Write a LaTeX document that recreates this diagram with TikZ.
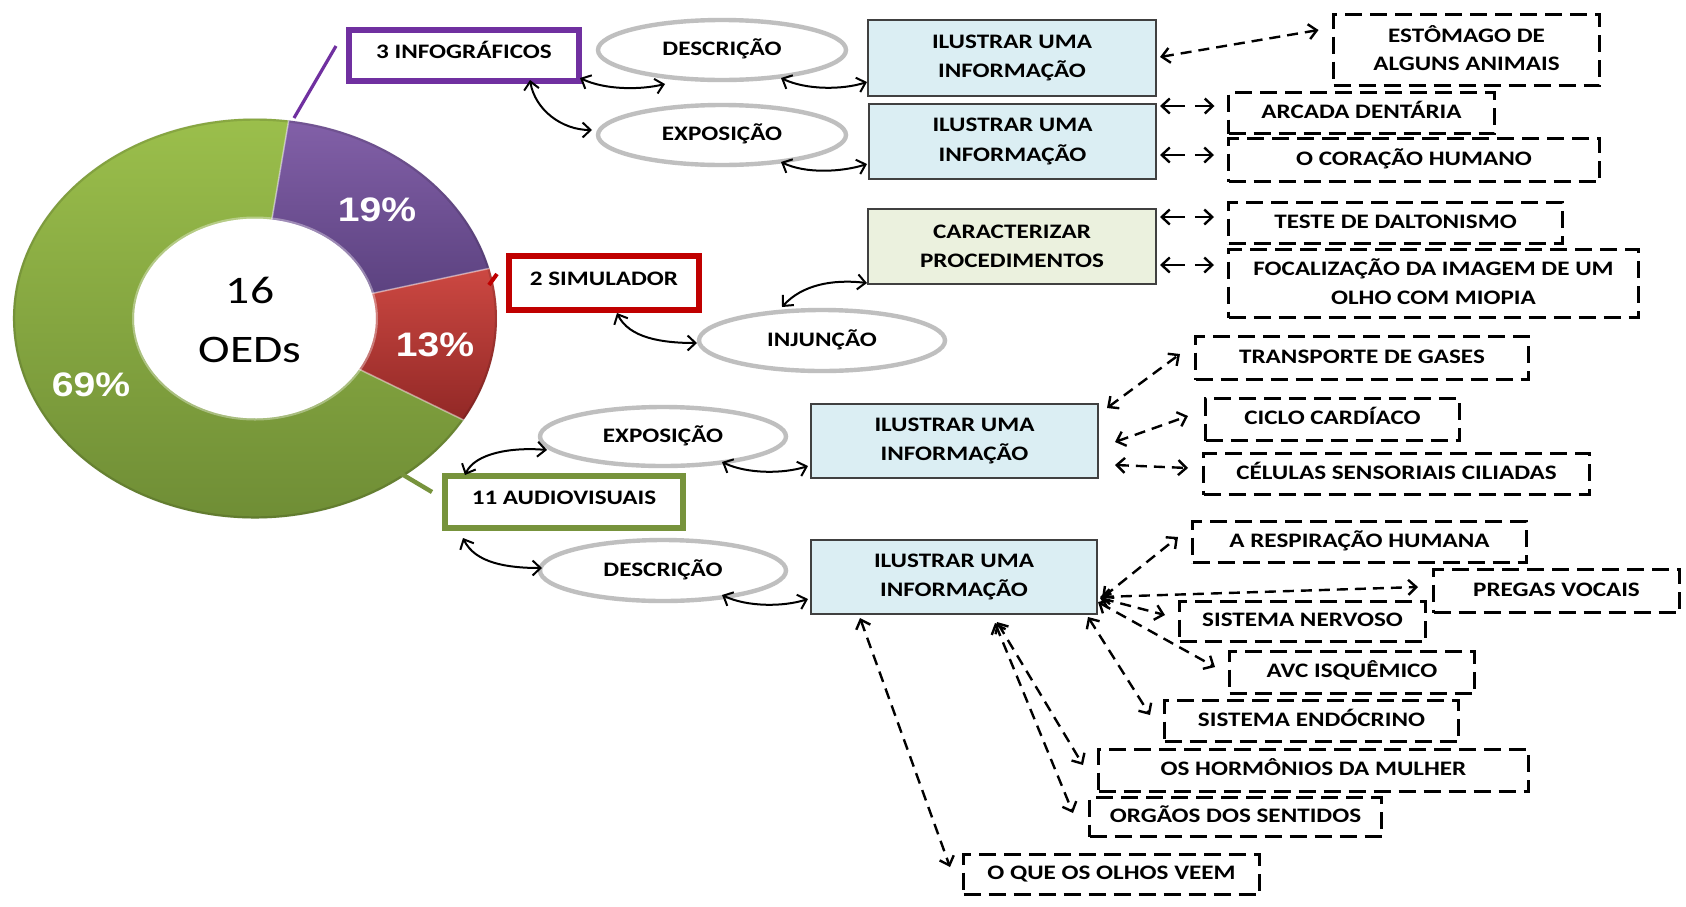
\documentclass[tikz,border=0pt]{standalone}
\usepackage{fontspec}
\setmainfont{Carlito}[FakeStretch=1.22]
\newfontfamily\pctfont{Liberation Sans}[FakeStretch=1.15]
\usetikzlibrary{arrows.meta,shapes.geometric,calc}

\definecolor{infopurple}{RGB}{112,48,160}
\definecolor{simred}{RGB}{192,0,0}
\definecolor{avgreen}{RGB}{119,147,60}
\definecolor{ovalgray}{RGB}{191,191,191}
\definecolor{bluefill}{RGB}{219,238,243}
\definecolor{greenfill}{RGB}{235,241,222}
\definecolor{boxline}{RGB}{64,64,64}
\definecolor{ringgreenA}{RGB}{156,192,76}
\definecolor{ringgreenB}{RGB}{108,138,52}
\definecolor{ringpurpleA}{RGB}{130,96,168}
\definecolor{ringpurpleB}{RGB}{92,66,128}
\definecolor{ringredA}{RGB}{204,72,66}
\definecolor{ringredB}{RGB}{146,40,38}

\begin{document}
\begin{tikzpicture}[x=0.5pt,y=-0.5pt,
  every node/.style={outer sep=0pt},
  txt/.style={font=\fontsize{10.3}{14.7}\selectfont\bfseries, align=center, inner sep=0pt, text=black},
  oneline/.style={text height=7pt, text depth=1.8pt},
  catbox/.style={txt, rectangle, draw=#1, line width=3pt, fill=white, text height=6pt, text depth=3.4pt},
  oval/.style={txt, ellipse, draw=ovalgray, line width=2.2pt, fill=white, text height=7pt, text depth=1.2pt},
  infobox/.style={txt, rectangle, draw=boxline, line width=1pt, fill=bluefill},
  topic/.style={txt, rectangle, draw=black, line width=1.4pt, dash pattern=on 8.5pt off 4pt},
  tip/.tip={Straight Barb[length=4pt,width=7.5pt]},
  link/.style={line width=1pt, tip-tip},
  dlink/.style={line width=1.2pt, dash pattern=on 5.5pt off 3.5pt, tip-tip},
  slink/.style={line width=1.2pt, dash pattern=on 11pt off 5pt, tip-tip},
  pct/.style={font=\pctfont\bfseries\fontsize{17}{17}\selectfont, text=white, inner sep=0pt}
]
% canvas
\useasboundingbox (0,0) rectangle (1686,906);
\fill[white] (0,0) rectangle (1686,906);

% ---------- donut chart (16 OEDs) ----------
\def\cx{255}\def\cy{318.5}
\def\ra{242}\def\rb{200}\def\ia{121}\def\ib{100}
% green 69%
\shade[top color=ringgreenA, bottom color=ringgreenB]
  ({\cx+\ra*cos(30.5)},{\cy+\rb*sin(30.5)}) arc[start angle=30.5, end angle=278, x radius=\ra, y radius=\rb]
  -- ({\cx+\ia*cos(278)},{\cy+\ib*sin(278)}) arc[start angle=278, end angle=30.5, x radius=\ia, y radius=\ib] -- cycle;
% purple 19%
\shade[top color=ringpurpleA, bottom color=ringpurpleB]
  ({\cx+\ra*cos(-82)},{\cy+\rb*sin(-82)}) arc[start angle=-82, end angle=-14.5, x radius=\ra, y radius=\rb]
  -- ({\cx+\ia*cos(-14.5)},{\cy+\ib*sin(-14.5)}) arc[start angle=-14.5, end angle=-82, x radius=\ia, y radius=\ib] -- cycle;
% red 13%
\shade[top color=ringredA, bottom color=ringredB]
  ({\cx+\ra*cos(-14.5)},{\cy+\rb*sin(-14.5)}) arc[start angle=-14.5, end angle=30.5, x radius=\ra, y radius=\rb]
  -- ({\cx+\ia*cos(30.5)},{\cy+\ib*sin(30.5)}) arc[start angle=30.5, end angle=-14.5, x radius=\ia, y radius=\ib] -- cycle;
% soft rim on the outer and inner edges
\draw[black, opacity=0.12, line width=1.2pt]
  (\cx,\cy) ellipse[x radius=\ra-1, y radius=\rb-1];
\draw[white, opacity=0.35, line width=1pt]
  (\cx,\cy) ellipse[x radius=\ia+1, y radius=\ib+1];
% light seams between the slices
\foreach \a in {-82,-14.5,30.5}
  \draw[white, opacity=0.45, line width=0.8pt]
    ({\cx+\ia*cos(\a)},{\cy+\ib*sin(\a)}) -- ({\cx+\ra*cos(\a)},{\cy+\rb*sin(\a)});

\node[pct] (p19) at (377,210) {19\%};
\node[pct] (p13) at (435,345) {13\%};
\node[pct] (p69) at (91,385) {69\%};
\node[anchor=base, inner sep=0pt, font=\fontsize{19.5}{19.5}\selectfont] (num) at (250,303) {16};
\node[anchor=base, inner sep=0pt, font=\fontsize{19.5}{19.5}\selectfont] (oeds) at (250,362) {OEDs};

% leader lines from the slices
\coordinate (lpA) at (294,118); \coordinate (lpB) at (336,46);
\coordinate (lrA) at (489,285); \coordinate (lrB) at (497,274);
\coordinate (lgA) at (400,473); \coordinate (lgB) at (432,492);
\draw[infopurple, line width=1.6pt] (lpA) -- (lpB);
\draw[simred, line width=2pt] (lrA) -- (lrB);
\draw[avgreen, line width=2.2pt] (lgA) -- (lgB);

% ---------- categories ----------
\node[catbox=infopurple, minimum width=115pt, minimum height=25.5pt] (info) at (464,55.5) {3 INFOGRÁFICOS};
\node[catbox=simred, minimum width=95pt, minimum height=27pt] (sim) at (604,283) {2 SIMULADOR};
\node[catbox=avgreen, minimum width=119pt, minimum height=26pt] (av) at (564,502) {11 AUDIOVISUAIS};

% ---------- text types ----------
\node[oval, minimum width=124pt, minimum height=30pt] (desc1) at (722,50) {DESCRIÇÃO};
\node[oval, minimum width=124pt, minimum height=30pt] (expo1) at (722,135) {EXPOSIÇÃO};
\node[oval, minimum width=123pt, minimum height=30.5pt] (inj) at (822,340.5) {INJUNÇÃO};
\node[oval, minimum width=123pt, minimum height=29.5pt] (expo2) at (663,436.5) {EXPOSIÇÃO};
\node[oval, minimum width=123pt, minimum height=30.5pt] (desc2) at (663,570.5) {DESCRIÇÃO};

% ---------- purposes ----------
\node[infobox, minimum width=144pt, minimum height=38pt] (ill1) at (1012,58) {ILUSTRAR UMA\\INFORMAÇÃO};
\node[infobox, minimum width=143.5pt, minimum height=37.5pt] (ill2) at (1012.5,141.5) {ILUSTRAR UMA\\INFORMAÇÃO};
\node[infobox, fill=greenfill, minimum width=144pt, minimum height=37.5pt] (car) at (1012,246.5) {CARACTERIZAR\\PROCEDIMENTOS};
\node[infobox, minimum width=143.5pt, minimum height=37pt] (ill3) at (954.5,441) {ILUSTRAR UMA\\INFORMAÇÃO};
\node[infobox, minimum width=143pt, minimum height=37pt] (ill4) at (954,577) {ILUSTRAR UMA\\INFORMAÇÃO};

% ---------- topics ----------
\node[topic, minimum width=133pt, minimum height=35.5pt] (est) at (1466.5,50) {EST\smash{Ô}MAGO DE\\[-0.6pt]ALGUNS ANIMAIS};
\node[topic, oneline, minimum width=133pt, minimum height=20.5pt] (arc) at (1361.5,113) {ARCADA DENTÁRIA};
\node[topic, oneline, minimum width=185.5pt, minimum height=21.5pt] (cor) at (1414,160) {O CORAÇÃO HUMANO};
\node[topic, oneline, minimum width=167pt, minimum height=20.5pt] (tes) at (1395.5,223) {TESTE DE DALTONISMO};
\node[topic, minimum width=205pt, minimum height=34pt] (foc) at (1433.5,283.5) {FOCALIZA\smash{ÇÃ}O DA IMAGEM DE UM\\OLHO COM MIOPIA};
\node[topic, oneline, minimum width=166.5pt, minimum height=21.5pt] (tra) at (1362,358) {TRANSPORTE DE GASES};
\node[topic, oneline, minimum width=127pt, minimum height=21pt] (cic) at (1332.5,419.5) {CICLO CARDÍACO};
\node[topic, oneline, minimum width=193pt, minimum height=20.5pt] (cel) at (1396.5,474) {CÉLULAS SENSORIAIS CILIADAS};
\node[topic, oneline, minimum width=167pt, minimum height=20.5pt] (res) at (1359.5,542) {A RESPIRAÇÃO HUMANA};
\node[topic, oneline, minimum width=123pt, minimum height=21.5pt] (pre) at (1556.5,591) {PREGAS VOCAIS};
\node[topic, oneline, minimum width=123pt, minimum height=20pt] (ner) at (1302.5,621.5) {SISTEMA NERVOSO};
\node[topic, oneline, minimum width=122.5pt, minimum height=21pt] (avc) at (1352,672.5) {AVC ISQUÊMICO};
\node[topic, oneline, minimum width=147pt, minimum height=20.5pt] (endo) at (1311.5,721) {SISTEMA ENDÓCRINO};
\node[topic, oneline, minimum width=215pt, minimum height=21pt] (hor) at (1313.5,770.5) {OS HORMÔNIOS DA MULHER};
\node[topic, oneline, minimum width=146pt, minimum height=19.5pt] (org) at (1235.5,817) {ORGÃOS DOS SENTIDOS};
\node[topic, oneline, minimum width=148pt, minimum height=20pt] (que) at (1111.5,874.5) {O QUE OS OLHOS VEEM};

% ---------- curved links ----------
\draw[link] ($(info.south east)+(1,-3)$) .. controls +(25,12) and +(-25,6) .. ($(desc1.south)+(-57,4)$);
\draw[link] ($(info.south)+(66,-1)$) .. controls +(5,30) and +(-30,0) .. ($(expo1.west)+(-6,-5)$);
\draw[link] ($(desc1.south)+(59,-2)$) .. controls +(25,12) and +(-25,8) .. ($(ill1.south west)+(-1,-14)$);
\draw[link] ($(expo1.south)+(59,-3)$) .. controls +(25,12) and +(-25,8) .. ($(ill2.south west)+(-2,-15)$);
\draw[link] ($(sim.south)+(13,3)$) .. controls +(12,25) and +(-35,0) .. ($(inj.west)+(-2,2.5)$);
\draw[link] ($(inj.north)+(-40,-3)$) .. controls +(20,-22) and +(-35,-4) .. ($(car.south west)+(-1,-1)$);
\draw[link] ($(av.north west)+(20,-1)$) .. controls +(10,-22) and +(-35,-3) .. ($(expo2.west)+(7,13.5)$);
\draw[link] ($(expo2.south)+(59,-4)$) .. controls +(25,12) and +(-25,8) .. ($(ill3.south west)+(-3,-12)$);
\draw[link] ($(av.south west)+(18,10)$) .. controls +(12,25) and +(-35,0) .. ($(desc2.west)+(2,-2.5)$);
\draw[link] ($(desc2.south)+(59,-6)$) .. controls +(25,12) and +(-25,8) .. ($(ill4.south west)+(-3,-15)$);

% ---------- dashed links to topics ----------
\draw[dlink] ($(ill1.east)+(4,-1)$) -- ($(est.west)+(-15,-20)$);
\draw[slink] ($(ill2.north east)+(4,2)$) -- ($(arc.west)+(-14,-7)$);
\draw[slink] ($(ill2.south east)+(4,-24)$) -- ($(cor.west)+(-14.5,-5)$);
\draw[slink] ($(car.north east)+(4,8)$) -- ($(tes.west)+(-14.5,-6)$);
\draw[slink] ($(car.south east)+(4,-19)$) -- ($(foc.west)+(-14.5,-18.5)$);

\draw[dlink] ($(ill3.north east)+(9,4)$) -- ($(tra.west)+(-15.5,-4)$);
\draw[dlink] ($(ill3.east)+(17,1)$) -- ($(cic.west)+(-17.5,-3.5)$);
\draw[dlink] ($(ill3.east)+(17,24)$) -- ($(cel.west)+(-15.5,-6)$);

\draw[dlink] ($(ill4.east)+(5,21)$) -- ($(res.west)+(-14.5,-5)$);
\draw[dlink] ($(ill4.east)+(3,20)$) -- ($(pre.west)+(-15.5,-4)$);
\draw[dlink] ($(ill4.east)+(3,21)$) -- ($(ner.west)+(-14.5,-6.5)$);
\draw[dlink] ($(ill4.east)+(1,25)$) -- ($(avc.west)+(-14.5,-5.5)$);
\draw[dlink] ($(ill4.south east)+(-9,3)$) -- ($(endo.west)+(-14.5,-6)$);
\draw[dlink] ($(ill4.south)+(43,8)$) -- ($(hor.west)+(-15.5,-5.5)$);
\draw[dlink] ($(ill4.south)+(41,9)$) -- ($(org.west)+(-16.5,-4)$);
\draw[dlink] ($(ill4.south)+(-94,4)$) -- ($(que.west)+(-13.5,-7.5)$);
\end{tikzpicture}
\end{document}
